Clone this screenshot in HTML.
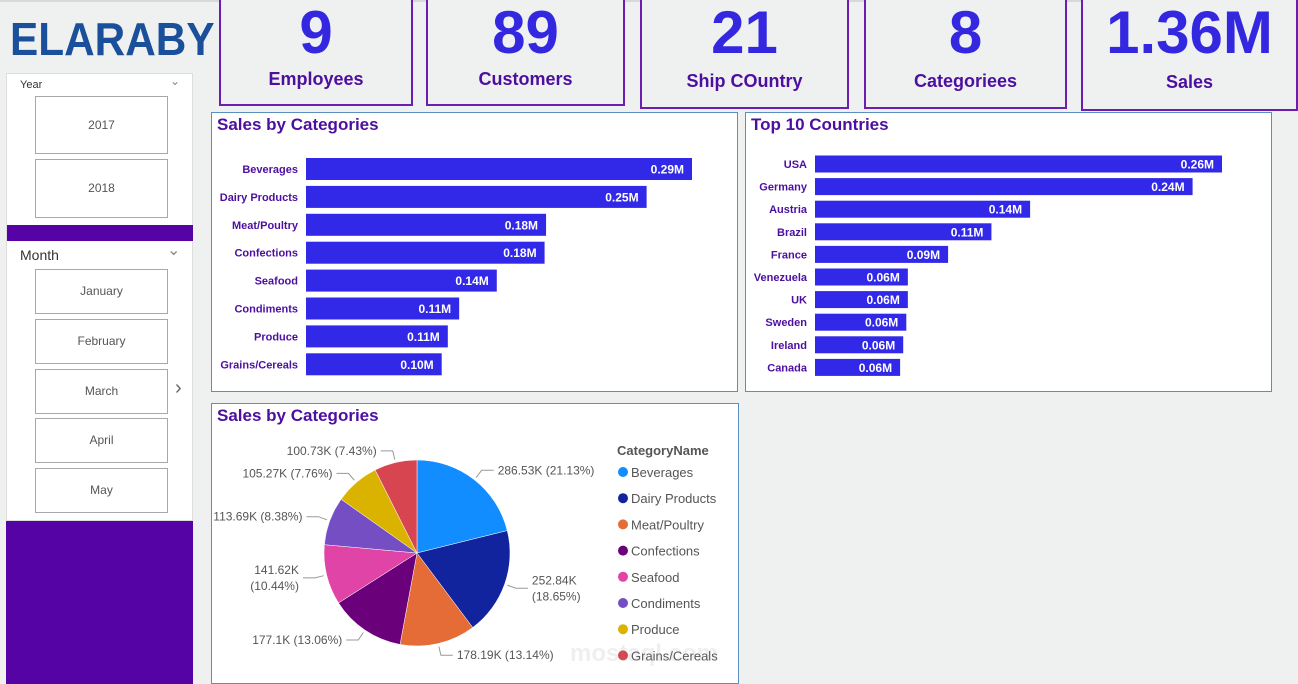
<!DOCTYPE html>
<html><head><meta charset="utf-8">
<style>
*{box-sizing:border-box;margin:0;padding:0}
body{width:1298px;height:684px;background:#eff0f0;font-family:"Liberation Sans",sans-serif;position:relative;overflow:hidden}
.abs{position:absolute}
.kpi{position:absolute;border:2px solid #6a1fb0;border-top:none;background:#eff0f0;text-align:center}
.kpi .num{color:#3328e0;font-weight:bold;font-size:60px;line-height:62px;margin-top:2px}
.kpi .lbl{color:#4c0f9f;font-weight:bold;font-size:18px;margin-top:5px}
.card{position:absolute;background:#fff;border:1px solid #5a8fc0}
.title{position:absolute;left:5px;top:2px;color:#4c0f9f;font-weight:bold;font-size:17px}
.btn{position:absolute;left:28px;width:133px;border:1px solid #a8a8a8;background:#fff;color:#555;font-size:12px;text-align:center}
</style></head><body>
<div class="abs" style="left:0;top:0;width:1298px;height:2px;background:#d8d8d8"></div>
<div class="abs" style="left:10px;top:12px;font-size:46px;font-weight:900;color:#1a4f9c;transform:scaleX(0.92);transform-origin:left">ELARABY</div>

<div class="kpi" style="left:219px;top:0;width:194px;height:106px"><div class="num">9</div><div class="lbl">Employees</div></div>
<div class="kpi" style="left:426px;top:0;width:199px;height:106px"><div class="num">89</div><div class="lbl">Customers</div></div>
<div class="kpi" style="left:640px;top:0;width:209px;height:109px"><div class="num">21</div><div class="lbl" style="margin-top:7px">Ship COuntry</div></div>
<div class="kpi" style="left:864px;top:0;width:203px;height:109px"><div class="num">8</div><div class="lbl" style="margin-top:7px">Categoriees</div></div>
<div class="kpi" style="left:1081px;top:0;width:217px;height:111px"><div class="num">1.36M</div><div class="lbl" style="margin-top:8px">Sales</div></div>

<div class="abs" style="left:6px;top:73px;width:187px;height:448px;background:#fff;border:1px solid #ddd">
  <div class="abs" style="left:13px;top:5px;font-size:11px;color:#333">Year</div>
  <div class="abs" style="left:163px;top:0px;font-size:12px;color:#888">&#8964;</div>
  <div class="btn" style="top:22px;height:58px;line-height:56px">2017</div>
  <div class="btn" style="top:85px;height:59px;line-height:57px">2018</div>
  <div class="abs" style="left:0;top:151px;width:186px;height:16px;background:#5603a6"></div>
  <div class="abs" style="left:13px;top:173px;font-size:14px;color:#333">Month</div>
  <div class="abs" style="left:160px;top:166px;font-size:16px;color:#888">&#8964;</div>
  <div class="btn" style="top:195px;height:45px;line-height:43px">January</div>
  <div class="btn" style="top:245px;height:45px;line-height:43px">February</div>
  <div class="btn" style="top:295px;height:45px;line-height:43px">March</div>
  <div class="btn" style="top:344px;height:45px;line-height:43px">April</div>
  <div class="btn" style="top:394px;height:45px;line-height:43px">May</div>
  <div class="abs" style="left:168px;top:303px;font-size:20px;color:#666">&#8250;</div>
</div>
<div class="abs" style="left:6px;top:521px;width:187px;height:163px;background:#5603a6"></div>

<div class="card" style="left:211px;top:112px;width:527px;height:280px">
  <div class="title">Sales by Categories</div>
  <svg id="bar1" class="abs" style="left:0;top:0" width="525" height="278"></svg>
</div>
<div class="card" style="left:745px;top:112px;width:527px;height:280px">
  <div class="title">Top 10 Countries</div>
  <svg id="bar2" class="abs" style="left:0;top:0" width="525" height="278"></svg>
</div>
<div class="card" style="left:211px;top:403px;width:528px;height:281px">
  <div class="title">Sales by Categories</div>
  <svg id="pie" class="abs" style="left:0;top:0" width="526" height="279"></svg>
</div>
<div class="abs" style="left:570px;top:640px;font-size:24px;font-weight:bold;color:rgba(150,150,150,0.15)">mostaql.com</div>

<script>
const NS="http://www.w3.org/2000/svg";
const catNames=["Beverages","Dairy Products","Meat/Poultry","Confections","Seafood","Condiments","Produce","Grains/Cereals"];
const catSales=[286.53,252.84,178.19,177.1,141.62,113.69,105.27,100.73];
const catLabels=["0.29M","0.25M","0.18M","0.18M","0.14M","0.11M","0.11M","0.10M"];
const countryNames=["USA","Germany","Austria","Brazil","France","Venezuela","UK","Sweden","Ireland","Canada"];
const countrySales=[263,244,139,114,86,60,60,59,57,55];
const countryLabels=["0.26M","0.24M","0.14M","0.11M","0.09M","0.06M","0.06M","0.06M","0.06M","0.06M"];
const pieLabels=[["286.53K (21.13%)"],["252.84K","(18.65%)"],["178.19K (13.14%)"],["177.1K (13.06%)"],["141.62K","(10.44%)"],["113.69K (8.38%)"],["105.27K (7.76%)"],["100.73K (7.43%)"]];
const pieColors=["#118dff","#12239e","#e66c37","#6b007b","#e044a7","#744ec2","#d9b300","#d64550"];

function mk(tag,attrs,parent){const e=document.createElementNS(NS,tag);for(const k in attrs)e.setAttribute(k,attrs[k]);parent.appendChild(e);return e;}

function barChart(id,names,vals,labels,x0,xMax,vMax,y0,step,bh,fs,prefix){
  const svg=document.getElementById(id);
  const sx=v=>x0+v/vMax*(xMax-x0);
  names.forEach((n,i)=>{
    const cy=y0+i*step;
    const t=mk("text",{x:x0-8,y:cy+4,"text-anchor":"end","font-size":fs,"font-weight":"bold",fill:"#4c0f9f"},svg);t.textContent=n;
    
    
    const r=mk("rect",{x:x0,y:cy-bh/2,width:sx(vals[i])-x0,height:bh,fill:"#3228e8"},svg);
    
    
    const l=mk("text",{x:sx(vals[i])-8,y:cy+4.5,"text-anchor":"end","font-size":12,"font-weight":"bold",fill:"#fff"},svg);l.textContent=labels[i];
    
    
  });
}
barChart("bar1",catNames,catSales,catLabels,94,480,286.53,56,27.9,22,11,"category");
barChart("bar2",countryNames,countrySales,countryLabels,69,476,263,51,22.6,17,11,"country");

(function(){
  const svg=document.getElementById("pie");
  const cx=205,cy=149,r=93;
  const total=catSales.reduce((a,b)=>a+b,0);
  let a=-Math.PI/2;
  catSales.forEach((v,i)=>{
    const da=v/total*2*Math.PI,a2=a+da;
    const x1=cx+r*Math.cos(a),y1=cy+r*Math.sin(a),x2=cx+r*Math.cos(a2),y2=cy+r*Math.sin(a2);
    const p=mk("path",{d:`M${cx},${cy}L${x1},${y1}A${r},${r} 0 ${da>Math.PI?1:0} 1 ${x2},${y2}Z`,fill:pieColors[i],stroke:"#fff","stroke-width":0.5},svg);
    
    
    const m=(a+a2)/2,right=Math.cos(m)>=0;
    const ex=cx+(r+3)*Math.cos(m),ey=cy+(r+3)*Math.sin(m);
    const kx=cx+(r+12)*Math.cos(m),ky=cy+(r+12)*Math.sin(m);
    const hx=kx+(right?12:-12);
    mk("polyline",{points:`${ex},${ey} ${kx},${ky} ${hx},${ky}`,fill:"none",stroke:"#999","stroke-width":1},svg);
    const lines=pieLabels[i];
    const t=mk("text",{x:hx+(right?4:-4),y:ky+4-(lines.length-1)*8,"text-anchor":right?"start":"end","font-size":12,fill:"#555"},svg);
    
    
    lines.forEach((s,j)=>{const ts=mk("tspan",{x:hx+(right?4:-4),dy:j?16:0},t);ts.textContent=s;});
    a=a2;
  });
  const lt=mk("text",{x:405,y:51,"font-size":13,"font-weight":"bold",fill:"#555"},svg);lt.textContent="CategoryName";
  
  
  catNames.forEach((n,i)=>{
    const y=68+i*26.2;
    const c=mk("circle",{cx:411,cy:y,r:5,fill:pieColors[i]},svg);
    
    
    const t=mk("text",{x:419,y:y+5,"font-size":13,fill:"#555"},svg);t.textContent=n;
    
    
  });
})();
</script>
</body></html>
